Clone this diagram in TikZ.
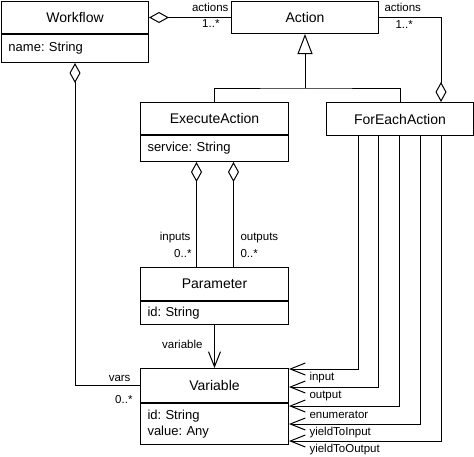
\documentclass[tikz,border=0pt]{standalone}
\usepackage{fontspec}
\setmainfont{Liberation Sans}
\usetikzlibrary{arrows.meta}
\frenchspacing

\begin{document}
\begin{tikzpicture}[x=1pt, y=-1pt, line width=1pt,
  title/.style={draw, anchor=north west, inner sep=0pt, font=\fontsize{14}{16}\selectfont},
  attr/.style={draw, anchor=north, inner ysep=0pt, inner xsep=7pt, align=left, font=\fontsize{13}{16}\selectfont},
  lbl/.style={inner sep=0pt, font=\fontsize{11.5}{13}\selectfont},
  agg/.style={{Diamond[open,length=20pt,width=11pt]}-},
  nav/.style={-{Straight Barb[length=15pt,width=12pt]}}]
\useasboundingbox (0,0) rectangle (474,456);
% classes
\node [title, minimum width=147pt, minimum height=32pt] (wf) at (1,1) {Workflow};
\node [attr, text width=133pt, minimum height=28pt] (wfa) at (wf.south) {name: String};
\node [title, minimum width=147pt, minimum height=32pt] (act) at (231,1) {Action};
\node [title, minimum width=148pt, minimum height=32pt] (ea) at (140,102) {ExecuteAction};
\node [attr, text width=134pt, minimum height=26pt] (eaa) at (ea.south) {service: String};
\node [title, minimum width=147pt, minimum height=33pt] (fea) at (326,102) {ForEachAction};
\node [title, minimum width=148pt, minimum height=33pt] (par) at (140,267) {Parameter};
\node [attr, text width=134pt, minimum height=23pt] (para) at (par.south) {id: String};
\node [title, minimum width=148pt, minimum height=34pt] (var) at (140,368) {Variable};
\node [attr, text width=134pt, minimum height=41pt] (vara) at (var.south) {id: String\\value: Any};
% Workflow - Action
\draw [agg] (wf.east) -- (act.west);
\node [lbl, anchor=east] (wfact) at (229,7) {actions};
\node [lbl, anchor=east] (wfmul) at (220,24) {1..*};
% ForEachAction - Action
\draw [-{Diamond[open,length=20pt,width=11pt]}] (act.east) -| ([xshift=-33pt]fea.north east);
\node [lbl, anchor=west] (feact) at (384,7) {actions};
\node [lbl, anchor=west] (femul) at (395,25) {1..*};
% generalisation
\coordinate (gen) at ([yshift=-54pt]act.south);
\draw (ea.north) |- (gen) -| (fea.north);
\draw [-{Triangle[open,length=20pt,width=15pt]}] (gen) -- (act.south);
% ExecuteAction - Parameter
\draw [agg] ([xshift=-18pt]eaa.south) -- ([xshift=-18pt]par.north);
\draw [agg] ([xshift=19pt]eaa.south) -- ([xshift=19pt]par.north);
\node [lbl, anchor=east] (inp) at (191,238) {inputs};
\node [lbl, anchor=east] (inmul) at (192,254) {0..*};
\node [lbl, anchor=west] (outp) at (240,238) {outputs};
\node [lbl, anchor=west] (outmul) at (240,254) {0..*};
% Parameter - Variable
\draw [nav] (para.south) -- (var.north);
\node [lbl, anchor=east] (pvar) at (203,344) {variable};
% Workflow - Variable
\draw [agg] (wfa.south) |- (var.west);
\node [lbl, anchor=east] (wvars) at (131,378) {vars};
\node [lbl, anchor=east] (wvmul) at (133,400) {0..*};
% ForEachAction - Variable
\foreach \dx/\dy/\txt [count=\i] in {32/1/input, 52/19/output, 73/38/enumerator, 94/56/yieldToInput, 115/73/yieldToOutput} {
  \draw [nav] ([xshift=\dx]fea.south west) |- ([yshift=-\dy]var.north east);
  \node [lbl, anchor=west] (fl\i) at ([xshift=20pt, yshift={-\dy-9}]var.north east) {\txt};
}
\end{tikzpicture}
\end{document}
